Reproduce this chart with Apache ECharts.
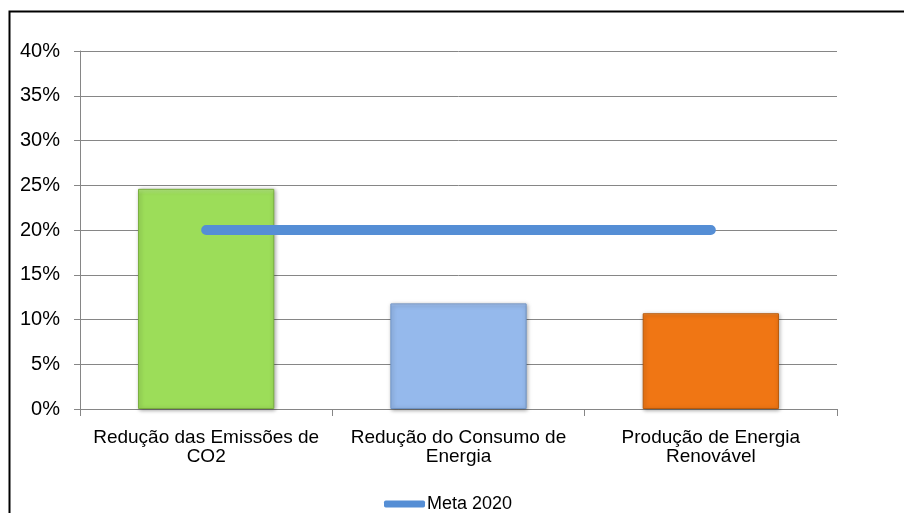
<!DOCTYPE html>
<html>
<head>
<meta charset="utf-8">
<script src="https://cdn.jsdelivr.net/npm/echarts@6/dist/echarts.min.js"></script>
<style>html,body{margin:0;padding:0;background:#fff;}#c{width:904px;height:513px;}</style>
</head>
<body>
<div id="c"></div>
<script>
const categories = ['Redução das Emissões de\nCO2', 'Redução do Consumo de\nEnergia', 'Produção de Energia\nRenovável'];
const barValues = [24.6, 11.8, 10.7];
const barColors = ['#9CDD59', '#95B9EC', '#F07614'];
const barLight = ['#B4EA7E', '#B3CEF3', '#F79A45'];
const barBorders = ['#79AE3E', '#6F93C4', '#B95A0B'];
const metaValues = [20, 20, 20];
const metaName = 'Meta 2020';

const chart = echarts.init(document.getElementById('c'), null, {renderer: 'canvas'});
const font = 'Liberation Sans, Arial, sans-serif';
chart.setOption({
  animation: false,
  textStyle: {fontFamily: font},
  graphic: [{
    type: 'rect', left: 7, top: 9, z: 100, silent: true,
    shape: {width: 900, height: 510},
    style: {fill: 'none', stroke: '#000', lineWidth: 2}
  }],
  grid: {left: 80, right: 67, top: 51, bottom: 104},
  legend: {
    top: 490, left: 379,
    data: [{name: metaName, icon: 'roundRect'}],
    itemWidth: 41, itemHeight: 7, itemGap: 4,
    textStyle: {fontSize: 18, color: '#000', fontFamily: font, padding: [0, 0, 0, -3]}
  },
  xAxis: {
    type: 'category', data: categories,
    axisLine: {lineStyle: {color: '#868686', width: 1}},
    axisTick: {show: true, length: 7, alignWithLabel: false, lineStyle: {color: '#868686'}},
    axisLabel: {fontSize: 19, color: '#000', lineHeight: 19, margin: 19, interval: 0, fontFamily: font}
  },
  yAxis: {
    type: 'value', min: 0, max: 40, interval: 5,
    axisLine: {show: true, lineStyle: {color: '#868686'}},
    axisTick: {show: true, length: 6, lineStyle: {color: '#868686'}},
    splitLine: {lineStyle: {color: '#868686', width: 1}},
    axisLabel: {formatter: '{value}%', fontSize: 20, color: '#000', margin: 20, fontFamily: font}
  },
  series: [{
    type: 'bar', barWidth: '54%',
    data: barValues.map((v, i) => ({
      value: v,
      itemStyle: {
        color: new echarts.graphic.LinearGradient(0, 0, 0, 1, [
          {offset: 0, color: barLight[i]},
          {offset: 0.025, color: barColors[i]},
          {offset: 1, color: barColors[i]}
        ]),
        borderColor: barBorders[i], borderWidth: 1,
        shadowColor: 'rgba(0,0,0,0.35)', shadowBlur: 4, shadowOffsetX: 1, shadowOffsetY: 1
      }
    }))
  }, {
    name: metaName, type: 'line', data: metaValues,
    symbol: 'none', z: 5,
    itemStyle: {color: '#558ED5'},
    lineStyle: {color: '#558ED5', width: 10, cap: 'round'}
  }]
});
</script>
</body>
</html>
